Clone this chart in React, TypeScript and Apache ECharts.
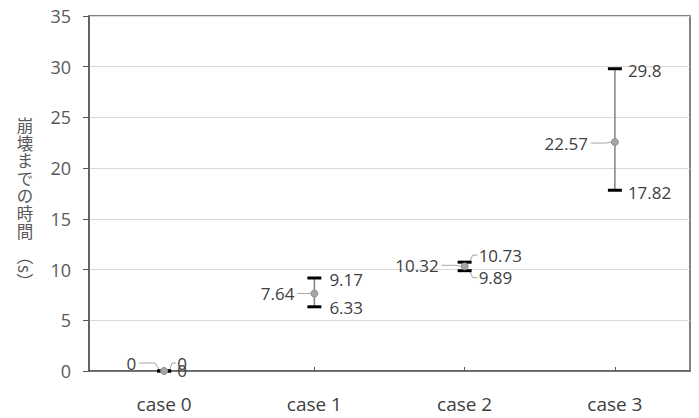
import React, { useEffect, useRef } from "react";
import * as echarts from "echarts";

const categories = ["case 0", "case 1", "case 2", "case 3"];
const meanValues = [0, 7.64, 10.32, 22.57];
const lowValues = [0, 6.33, 9.89, 17.82];
const highValues = [0, 9.17, 10.73, 29.8];
const yAxisTitle = "崩壊までの時間";
const yAxisUnit = "（s）";

// label nudges in pixels [dx, dy]
const meanLabelNudge = [[-28, -8], [-20, 0], [-26, -1], [-27, 1]];
const highLabelNudge = [[13, -8], [15, 2], [14, -7], [13, 2]];
const lowLabelNudge = [[13, -1], [15, 1], [14, 7], [13, 2]];

const FONT = "Open Sans";
const LABEL_SIZE = 17;
const LABEL_COLOR = "#404040";
const LEADER = "#a6a6a6";

export default function App() {
  const ref = useRef<HTMLDivElement>(null);
  useEffect(() => {
    if (!ref.current) return;
    const chart = echarts.init(ref.current, undefined, { renderer: "svg" });
    const data = categories.map((_, i) => [i, meanValues[i], lowValues[i], highValues[i]]);
    const renderItem = (params: any, api: any) => {
      const i = api.value(0);
      const mean = api.coord([i, api.value(1)]);
      const low = api.coord([i, api.value(2)]);
      const high = api.coord([i, api.value(3)]);
      const x = mean[0];
      const my = mean[1];
      const ly = low[1];
      const hy = high[1];
      const mn = meanLabelNudge[i];
      const hn = highLabelNudge[i];
      const ln = lowLabelNudge[i];
      const fmt = (v: number) => String(v);
      const children: any[] = [];
      children.push({
        type: "line",
        shape: { x1: x, y1: hy, x2: x, y2: ly },
        style: { stroke: "#808080", lineWidth: 1.5 },
      });
      children.push({
        type: "polyline",
        shape: { points: [[x + mn[0] + 3, my + mn[1]], [x - 9, my + mn[1]], [x - 4, my]] },
        style: { stroke: LEADER, lineWidth: 1, fill: "none" },
      });
      if (Math.abs(hn[1]) > 3) {
        children.push({
          type: "polyline",
          shape: { points: [[x + 5, hy], [x + 8, hy + hn[1]], [x + hn[0] - 1, hy + hn[1]]] },
          style: { stroke: LEADER, lineWidth: 1, fill: "none" },
        });
      }
      if (Math.abs(ln[1]) > 3) {
        children.push({
          type: "polyline",
          shape: { points: [[x + 5, ly], [x + 8, ly + ln[1]], [x + ln[0] - 1, ly + ln[1]]] },
          style: { stroke: LEADER, lineWidth: 1, fill: "none" },
        });
      }
      children.push({
        type: "line",
        shape: { x1: x - 7, y1: hy, x2: x + 7, y2: hy },
        style: { stroke: "#000", lineWidth: 3 },
      });
      children.push({
        type: "line",
        shape: { x1: x - 7, y1: ly, x2: x + 7, y2: ly },
        style: { stroke: "#000", lineWidth: 3 },
      });
      children.push({
        type: "circle",
        shape: { cx: x, cy: my, r: 3.5 },
        style: { fill: "#a6a6a6", stroke: "#8c8c8c", lineWidth: 1 },
      });
      const txt = (t: string, tx: number, ty: number, align: string) => ({
        type: "text",
        style: {
          text: t,
          x: tx,
          y: ty,
          align,
          verticalAlign: "middle",
          fontSize: LABEL_SIZE,
          fontFamily: FONT,
          fill: LABEL_COLOR,
        },
      });
      children.push(txt(fmt(api.value(1)), x + mn[0], my + mn[1], "right"));
      children.push(txt(fmt(api.value(3)), x + hn[0], hy + hn[1], "left"));
      children.push(txt(fmt(api.value(2)), x + ln[0], ly + ln[1], "left"));
      return { type: "group", children };
    };
    const titleChars = yAxisTitle.split("").map((ch, k) => ({
      type: "text",
      x: 25,
      y: 125 + k * 17.6,
      style: {
        text: ch,
        align: "center",
        verticalAlign: "middle",
        fontSize: 16.5,
        lineHeight: 17,
        fontFamily: "Noto Sans CJK JP",
        fill: "#595959",
      },
    }));
    chart.setOption({
      animation: false,
      grid: {
        left: 89,
        right: 9,
        top: 16,
        bottom: 47,
        show: true,
        borderColor: "#595959",
        borderWidth: 1.5,
      },
      xAxis: {
        type: "category",
        data: categories,
        boundaryGap: true,
        axisLine: { lineStyle: { color: "#595959", width: 1.5 } },
        axisTick: { show: true, inside: true, alignWithLabel: true, length: 4, lineStyle: { color: "#595959" } },
        axisLabel: { margin: 23, fontSize: 19, color: LABEL_COLOR, fontFamily: FONT },
        splitLine: { show: false },
      },
      yAxis: {
        type: "value",
        min: 0,
        max: 35,
        interval: 5,
        axisLine: { show: true, lineStyle: { color: "#595959", width: 1.5 } },
        axisTick: { show: true, inside: false, length: 6, lineStyle: { color: "#595959" } },
        axisLabel: { margin: 18, fontSize: 18, color: "#595959", fontFamily: FONT },
        splitLine: { show: true, lineStyle: { color: "#d9d9d9", width: 1 } },
      },
      graphic: [
        ...titleChars,
        {
          type: "text",
          x: 25,
          y: 269,
          rotation: -Math.PI / 2,
          style: {
            text: yAxisUnit,
            align: "center",
            verticalAlign: "middle",
            fontSize: 17,
            fontFamily: "Noto Sans CJK JP",
            fill: "#595959",
          },
        },
      ],
      series: [
        {
          type: "custom",
          renderItem,
          data,
          encode: { x: 0, y: [1, 2, 3] },
          clip: false,
          z: 10,
        },
      ],
    });
    return () => chart.dispose();
  }, []);
  return <div ref={ref} style={{ width: 699, height: 418, position: "absolute", left: 0, top: 0 }} />;
}
